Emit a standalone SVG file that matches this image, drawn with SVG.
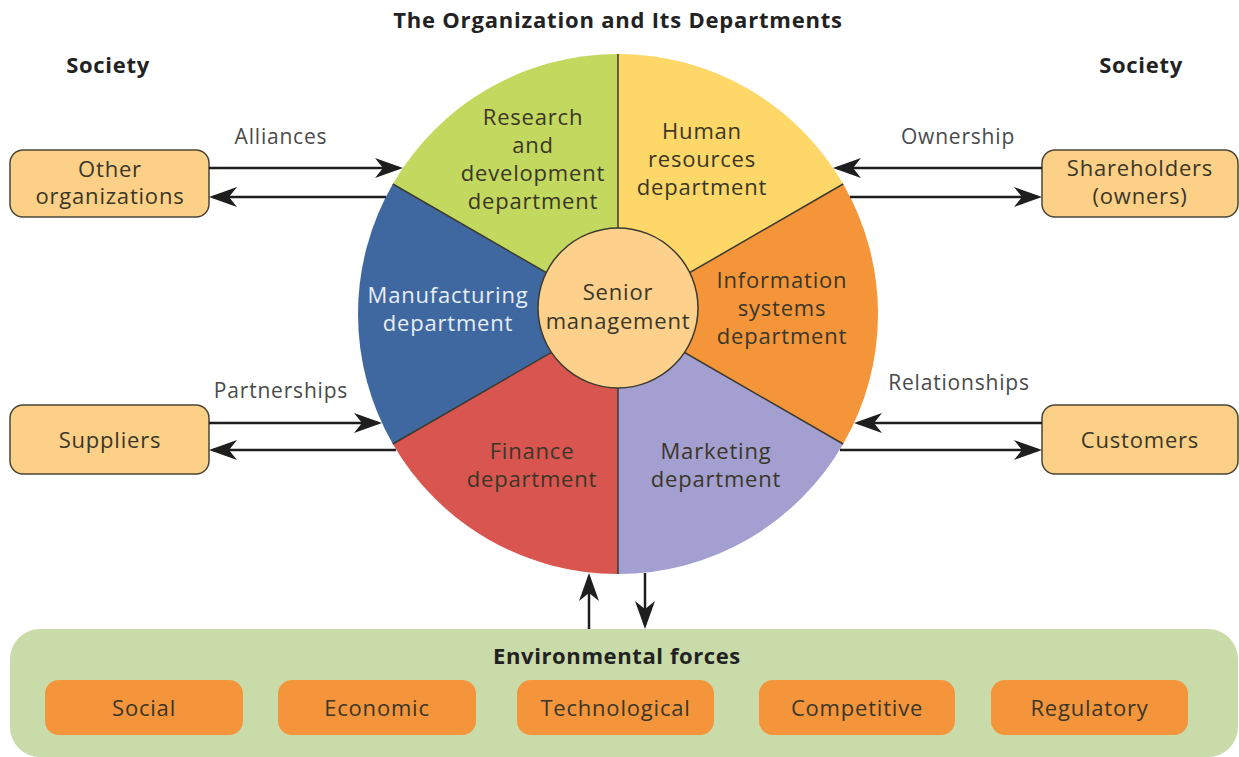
<svg xmlns="http://www.w3.org/2000/svg" width="1239" height="757" viewBox="0 0 1239 757">
<defs>
<style>
text{font-family:"Open Sans","Noto Sans","Liberation Sans",sans-serif;text-anchor:middle;}
.t{font-size:22px;letter-spacing:0.8px;fill:#3a3628;}
.w{font-size:22px;letter-spacing:0.8px;fill:#e8eef6;}
.lbl{font-size:21px;letter-spacing:0.8px;fill:#4a4a4a;}
.b{font-size:22px;font-weight:700;letter-spacing:0.7px;fill:#222;}
.sbox{fill:#fcd087;stroke:#4a4535;stroke-width:1.5;}
.fbox{fill:#f5953b;}
.div{stroke:#3a3a30;stroke-width:1.5;fill:none;}
.arr{stroke:#1e1e1e;stroke-width:2.5;fill:none;marker-end:url(#ah);}
</style>
<marker id="ah" markerUnits="userSpaceOnUse" markerWidth="28" markerHeight="20" refX="24" refY="10" orient="auto" overflow="visible">
<path d="M0,0 L28,10 L0,20 L8,10 Z" fill="#1e1e1e"/>
</marker>
</defs>
<rect width="1239" height="757" fill="#ffffff"/>
<text class="b" x="618" y="28" style="letter-spacing:0.8px">The Organization and Its Departments</text>
<text class="b" x="108" y="73">Society</text>
<text class="b" x="1141" y="73">Society</text>

<g id="wheel">
<path id="hr" d="M618,314 L618,54 A260,260 0 0 1 843.17,184 Z" fill="#fdd767"/>
<path id="info" d="M618,314 L843.17,184 A260,260 0 0 1 843.17,444 Z" fill="#f5953a"/>
<path id="mkt" d="M618,314 L843.17,444 A260,260 0 0 1 618,574 Z" fill="#a39fd0"/>
<path id="fin" d="M618,314 L618,574 A260,260 0 0 1 392.83,444 Z" fill="#d95550"/>
<path id="mfg" d="M618,314 L392.83,444 A260,260 0 0 1 392.83,184 Z" fill="#3f68a0"/>
<path id="rnd" d="M618,314 L392.83,184 A260,260 0 0 1 618,54 Z" fill="#c3d85e"/>
<path class="div" d="M618,314 L618,54 M618,314 L843.17,184 M618,314 L843.17,444 M618,314 L618,574 M618,314 L392.83,444 M618,314 L392.83,184"/>
</g>

<g id="n-rnd">
<text class="t" x="533" y="125">Research</text>
<text class="t" x="533" y="153">and</text>
<text class="t" x="533" y="181">development</text>
<text class="t" x="533" y="209">department</text>
</g>
<g id="n-hr">
<text class="t" x="702" y="139">Human</text>
<text class="t" x="702" y="167">resources</text>
<text class="t" x="702" y="195">department</text>
</g>
<g id="n-info">
<text class="t" x="782" y="288">Information</text>
<text class="t" x="782" y="316">systems</text>
<text class="t" x="782" y="344">department</text>
</g>
<g id="n-mfg">
<text class="w" x="448" y="303">Manufacturing</text>
<text class="w" x="448" y="331">department</text>
</g>
<g id="n-fin">
<text class="t" x="532" y="459">Finance</text>
<text class="t" x="532" y="487">department</text>
</g>
<g id="n-mkt">
<text class="t" x="716" y="459">Marketing</text>
<text class="t" x="716" y="487">department</text>
</g>
<g id="n-senior">
<circle cx="618" cy="308" r="80" fill="#fdd08b" stroke="#3a3a30" stroke-width="1.5"/>
<text class="t" x="618" y="300">Senior</text>
<text class="t" x="618" y="329">management</text>
</g>

<g id="n-other">
<rect class="sbox" x="10" y="150" width="199" height="67" rx="13"/>
<text class="t" x="110" y="177">Other</text>
<text class="t" x="110" y="204">organizations</text>
</g>
<g id="n-share">
<rect class="sbox" x="1042" y="150" width="196" height="67" rx="13"/>
<text class="t" x="1140" y="176">Shareholders</text>
<text class="t" x="1140" y="204">(owners)</text>
</g>
<g id="n-sup">
<rect class="sbox" x="10" y="405" width="199" height="69" rx="13"/>
<text class="t" x="110" y="448">Suppliers</text>
</g>
<g id="n-cust">
<rect class="sbox" x="1042" y="405" width="196" height="69" rx="13"/>
<text class="t" x="1140" y="448">Customers</text>
</g>

<g id="n-env">
<rect x="10" y="629" width="1228" height="128" rx="30" fill="#c8dba9"/>
<text class="b" x="617" y="664" style="letter-spacing:0.6px">Environmental forces</text>
<rect class="fbox" x="45" y="680" width="198" height="55" rx="14"/>
<text class="t" x="144" y="716">Social</text>
<rect class="fbox" x="278" y="680" width="198" height="55" rx="14"/>
<text class="t" x="377" y="716">Economic</text>
<rect class="fbox" x="517" y="680" width="197" height="55" rx="14"/>
<text class="t" x="615.5" y="716">Technological</text>
<rect class="fbox" x="759" y="680" width="196" height="55" rx="14"/>
<text class="t" x="857" y="716">Competitive</text>
<rect class="fbox" x="991" y="680" width="197" height="55" rx="14"/>
<text class="t" x="1089.5" y="716">Regulatory</text>
</g>

<g id="connectors">
<line class="arr" x1="209" y1="168" x2="399" y2="168"/>
<line class="arr" x1="386" y1="197" x2="213" y2="197"/>
<line class="arr" x1="1042" y1="168" x2="837" y2="168"/>
<line class="arr" x1="850" y1="197" x2="1038" y2="197"/>
<line class="arr" x1="209" y1="423" x2="378" y2="423"/>
<line class="arr" x1="396" y1="450" x2="213" y2="450"/>
<line class="arr" x1="1042" y1="423" x2="858" y2="423"/>
<line class="arr" x1="840" y1="450" x2="1038" y2="450"/>
<line class="arr" x1="589" y1="629" x2="589" y2="577"/>
<line class="arr" x1="645" y1="573" x2="645" y2="625"/>
<text class="lbl" x="281" y="144">Alliances</text>
<text class="lbl" x="958" y="144">Ownership</text>
<text class="lbl" x="281" y="398">Partnerships</text>
<text class="lbl" x="959" y="390">Relationships</text>
</g>
</svg>
